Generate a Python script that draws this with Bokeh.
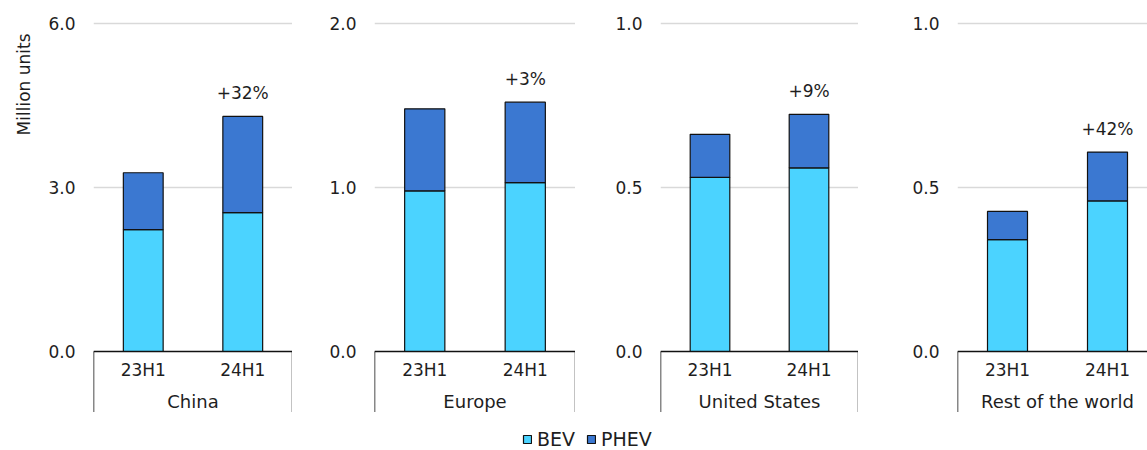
import math
from bokeh.plotting import figure
from bokeh.layouts import row, column
from bokeh.models import (Range1d, FixedTicker, NumeralTickFormatter, Span, Title,
                          ColumnDataSource, Legend, LegendItem)
from bokeh.core.properties import value
from bokeh.embed import file_html
from bokeh.resources import INLINE

# ---------------- data ----------------
regions = ["China", "Europe", "United States", "Rest of the world"]
periods = ["23H1", "24H1"]
bev_23h1 = [2.23, 0.98, 0.531, 0.341]
bev_24h1 = [2.54, 1.03, 0.560, 0.459]
phev_23h1 = [1.04, 0.50, 0.131, 0.086]
phev_24h1 = [1.76, 0.49, 0.163, 0.149]
axis_max = [6.0, 2.0, 1.0, 1.0]
growth_labels = ["+32%", "+3%", "+9%", "+42%"]
series_names = ["BEV", "PHEV"]
y_title = "Million units"

# ---------------- style ----------------
BEV_COLOR = "#4bd3ff"
PHEV_COLOR = "#3b78d1"
EDGE = "#111111"
FONT = "DejaVu Sans"
TEXT = "#1e1e1e"
GRID = "#d9d9d9"

PX = 328.0           # pixels between 0 and the axis maximum
H = 412              # figure height
ZERO_FROM_TOP = 351  # pixels from figure top to the zero line
BELOW = 61           # pixels of category box below zero
lefts = [92, 82, 85, 99]
frames = [200, 201, 198, 190]
x_ends = [2.0, 2.0, 2.0, 1.9]

figs = []
for i, region in enumerate(regions):
    s = axis_max[i]
    u = s / PX
    p = figure(width=lefts[i] + frames[i], height=H, output_backend="svg",
               toolbar_location=None, tools="",
               x_range=Range1d(0, x_ends[i]),
               y_range=Range1d(-BELOW * u, ZERO_FROM_TOP * u),
               x_axis_location=None,
               min_border_left=lefts[i], min_border_right=0,
               min_border_top=0, min_border_bottom=0)
    p.outline_line_color = None
    p.xgrid.visible = False
    p.ygrid.ticker = FixedTicker(ticks=[s / 2, s])
    p.ygrid.grid_line_color = GRID
    p.ygrid.grid_line_width = 1.3
    ax = p.yaxis[0]
    ax.ticker = FixedTicker(ticks=[0, s / 2, s])
    ax.formatter = NumeralTickFormatter(format="0.0")
    ax.axis_line_color = None
    ax.major_tick_line_color = None
    ax.minor_tick_line_color = None
    ax.major_tick_in = 0
    ax.major_tick_out = 0
    ax.major_label_standoff = 18
    ax.major_label_text_font = FONT
    ax.major_label_text_font_size = "17px"
    ax.major_label_text_color = TEXT

    xs = [j + 0.5 for j in range(len(periods))]
    bev = [bev_23h1[i], bev_24h1[i]]
    phev = [phev_23h1[i], phev_24h1[i]]
    total = [b + h for b, h in zip(bev, phev)]
    src = ColumnDataSource(dict(x=xs, bev=bev, total=total))
    p.vbar(x="x", bottom=0, top="bev", width=0.4, source=src,
           fill_color=BEV_COLOR, line_color=EDGE, line_width=1.2)
    p.vbar(x="x", bottom="bev", top="total", width=0.4, source=src,
           fill_color=PHEV_COLOR, line_color=EDGE, line_width=1.2)

    # zero line and category box
    p.add_layout(Span(location=0, dimension="width", line_color=EDGE, line_width=1.5))
    p.segment(x0=[0, 2], y0=[0, 0], x1=[0, 2], y1=[-BELOW * u, -BELOW * u],
              line_color=EDGE, line_width=1.5)

    p.text(x=xs, y=[-18.5 * u] * len(xs), text=periods,
           text_align="center", text_baseline="middle",
           text_font=value(FONT), text_font_size="17px", text_color=TEXT)
    p.text(x=[len(periods) / 2], y=[-50 * u], text=[region],
           text_align="center", text_baseline="middle",
           text_font=value(FONT), text_font_size="18px", text_color=TEXT)
    p.text(x=[xs[-1]], y=[total[-1] + 23 * u], text=[growth_labels[i]],
           text_align="center", text_baseline="middle",
           text_font=value(FONT), text_font_size="17px", text_color=TEXT)

    if i == 0:
        p.add_layout(Title(text=y_title, align="right", offset=33, standoff=23,
                           text_font=FONT, text_font_size="17px",
                           text_font_style="normal", text_color=TEXT), "left")
    figs.append(p)

# ---------------- legend ----------------
lp = figure(width=1147, height=38, output_backend="svg", toolbar_location=None, tools="",
            x_range=Range1d(0, 1), y_range=Range1d(0, 1),
            x_axis_location=None, y_axis_location=None, min_border=0)
lp.outline_line_color = None
lp.xgrid.visible = False
lp.ygrid.visible = False
r1 = lp.vbar(x=[0.5], bottom=[0.2], top=[0.8], width=0.1,
             fill_color=BEV_COLOR, line_color=EDGE, line_width=1.2, visible=False)
r2 = lp.vbar(x=[0.5], bottom=[0.2], top=[0.8], width=0.1,
             fill_color=PHEV_COLOR, line_color=EDGE, line_width=1.2, visible=False)
legend = Legend(items=[LegendItem(label=series_names[0], renderers=[r1]),
                       LegendItem(label=series_names[1], renderers=[r2])],
                orientation="horizontal", location=(522, 0),
                glyph_width=10, glyph_height=10, label_standoff=5, spacing=11,
                padding=0, margin=0, label_height=12,
                inactive_fill_alpha=0,
                border_line_alpha=0, background_fill_alpha=0,
                label_text_font=FONT, label_text_font_size="19px",
                label_text_color=TEXT)
lp.add_layout(legend)

layout = column(row(*figs), lp)
open("out.html", "w").write(file_html(layout, INLINE))
